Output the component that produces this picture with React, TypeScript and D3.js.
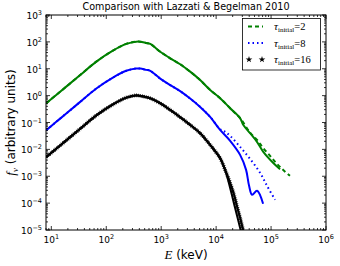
import React from "react";
import * as d3 from "d3";

// energies (keV) shared by all runs below ~10 MeV
const energyCore = [8.1, 12.3, 18.7, 32.7, 66, 132, 231, 351, 415, 533, 631, 959, 1458, 2215, 3366, 5115, 7780];
const greenCore = [0.52, 1.06, 2.16, 5.6, 18.4, 47, 84, 102, 102, 91, 84, 43, 24.5, 14.7, 7.8, 3.8, 1.63];
const blueCore = [0.052, 0.106, 0.216, 0.56, 1.84, 4.7, 8.4, 10.2, 10.2, 9.1, 8.4, 4.3, 2.45, 1.47, 0.78, 0.38, 0.162];
const blackCore = [0.0052, 0.0106, 0.0216, 0.056, 0.184, 0.47, 0.84, 1.02, 0.975, 0.88, 0.8, 0.52, 0.294, 0.157, 0.0815, 0.04, 0.0147];

// high energy tails
const greenSolidTailE = [11820, 17990, 27300, 31300, 41500, 55000, 71600, 108700, 145800];
const greenSolidTailF = [0.8, 0.34, 0.145, 0.081, 0.04, 0.0195, 0.0083, 0.0032, 0.00184];
const greenDashTailE = [11820, 17990, 27300, 41500, 55600, 71600, 95900, 123300, 165000, 221000];
const greenDashTailF = [0.8, 0.34, 0.145, 0.042, 0.0225, 0.0114, 0.00573, 0.00315, 0.00173, 0.00104];
const blueSolidTailE = [11820, 17990, 27300, 35100, 39800, 45200, 55600, 71600];
const blueSolidTailF = [0.053, 0.0207, 0.00625, 0.00173, 0.00044, 0.000204, 0.000287, 0.0000942];
const blueDotTailE = [11820, 14580, 17990, 27300, 41500, 63100, 84500, 118300];
const blueDotTailF = [0.056, 0.0448, 0.0318, 0.0124, 0.00443, 0.00134, 0.00044, 0.000133];
const blackSolidTailE = [11820, 14580, 16500, 19540, 22100, 25100, 28500];
const blackSolidTailF = [0.0047, 0.00173, 0.00073, 0.000187, 0.0000668, 0.0000239, 0.0000085];
const blackStarTailE = [11820, 14580, 17990, 21200, 24100, 27300, 31000, 33700];
const blackStarTailF = [0.0047, 0.00173, 0.000569, 0.000204, 0.0000728, 0.0000284, 0.0000102, 0.000006];

const legendLabels = ["2", "8", "16"];
const xExps = [1, 2, 3, 4, 5, 6];
const yExps = [-5, -4, -3, -2, -1, 0, 1, 2, 3];

const W = 340, H = 266;
const left = 46, right = 326, top = 15, bottom = 230;
const font = "DejaVu Sans, sans-serif";
const serif = "Liberation Serif, DejaVu Serif, serif";

const pts = (ea: number[], fa: number[], eb: number[], fb: number[]) =>
  ea.map((e, i) => [e, fa[i]]).concat(eb.map((e, i) => [e, fb[i]]));

const sup = (n: number) => (n < 0 ? "\u2212" + -n : "" + n);

export default function App() {
  const x = d3.scaleLog().domain([8, 1e6]).range([left, right]);
  const y = d3.scaleLog().domain([1e-5, 1e3]).range([bottom, top]);
  const line = d3.line<number[]>().x(d => x(d[0])).y(d => y(d[1])).curve(d3.curveCatmullRom.alpha(0.5));

  const series = [
    { d: pts(energyCore, greenCore, greenSolidTailE, greenSolidTailF), c: "#008000", dash: undefined, w: 2 },
    { d: pts(energyCore, greenCore, greenDashTailE, greenDashTailF), c: "#008000", dash: "4 3", w: 2 },
    { d: pts(energyCore, blueCore, blueSolidTailE, blueSolidTailF), c: "#0000ff", dash: undefined, w: 2 },
    { d: pts(energyCore, blueCore, blueDotTailE, blueDotTailF), c: "#0000ff", dash: "1.5 3", w: 2 },
    { d: pts(energyCore, blackCore, blackSolidTailE, blackSolidTailF), c: "#000", dash: undefined, w: 2 },
    { d: pts(energyCore, blackCore, blackStarTailE, blackStarTailF), c: "#000", dash: undefined, w: 2.2 },
  ];
  const starred = series[5].d;

  const xMinor: number[] = [];
  for (let p = 0; p <= 5; p++) for (let k = 2; k <= 9; k++) {
    const v = k * Math.pow(10, p);
    if (v >= 8 && v <= 1e6) xMinor.push(v);
  }
  const yMinor: number[] = [];
  for (let p = -5; p < 3; p++) for (let k = 2; k <= 9; k++) yMinor.push(k * Math.pow(10, p));

  const star = d3.symbol().type(d3.symbolStar).size(14)();
  const legY = [26.5, 43, 59.5];

  return (
    <svg width={W} height={H} style={{ position: "absolute", left: 0, top: 0 }}>
      <rect width={W} height={H} fill="#fff" />
      <defs>
        <clipPath id="plot">
          <rect x={left} y={top} width={right - left} height={bottom - top} />
        </clipPath>
      </defs>
      <text x={(left + right) / 2} y={10} textAnchor="middle" fontFamily={font} fontSize={9.6}>
        Comparison with Lazzati &amp; Begelman 2010
      </text>

      <g clipPath="url(#plot)">
        {series.map((s, i) => (
          <path key={i} d={line(s.d) || ""} fill="none" stroke={s.c} strokeWidth={s.w}
            strokeDasharray={s.dash} strokeLinejoin="round" />
        ))}
        {/* star markers, drawn densely as a jagged overlay */}
        <path d={line(starred) || ""} fill="none" stroke="#000" strokeWidth={3.8} strokeDasharray="0.7 1.3" />
      </g>

      {/* ticks */}
      <g stroke="#000" strokeWidth={0.8}>
        {xExps.map(e => {
          const px = x(Math.pow(10, e));
          return <g key={"xm" + e}>
            <line x1={px} x2={px} y1={bottom} y2={bottom - 4} />
            <line x1={px} x2={px} y1={top} y2={top + 4} />
          </g>;
        })}
        {xMinor.map(v => {
          const px = x(v);
          return <g key={"xn" + v}>
            <line x1={px} x2={px} y1={bottom} y2={bottom - 2} />
            <line x1={px} x2={px} y1={top} y2={top + 2} />
          </g>;
        })}
        {yExps.map(e => {
          const py = y(Math.pow(10, e));
          return <g key={"ym" + e}>
            <line x1={left} x2={left + 4} y1={py} y2={py} />
            <line x1={right} x2={right - 4} y1={py} y2={py} />
          </g>;
        })}
        {yMinor.map(v => {
          const py = y(v);
          return <g key={"yn" + v}>
            <line x1={left} x2={left + 2} y1={py} y2={py} />
            <line x1={right} x2={right - 2} y1={py} y2={py} />
          </g>;
        })}
      </g>
      <rect x={left} y={top} width={right - left} height={bottom - top} fill="none" stroke="#000" strokeWidth={1} />

      {/* tick labels */}
      {xExps.map(e => (
        <text key={"xl" + e} x={x(Math.pow(10, e))} y={243} textAnchor="middle" fontFamily={font} fontSize={9}>
          10<tspan dy={-4} fontSize={6.5}>{sup(e)}</tspan>
        </text>
      ))}
      {yExps.map(e => (
        <text key={"yl" + e} x={42} y={y(Math.pow(10, e)) + 4} textAnchor="end" fontFamily={font} fontSize={9}>
          10<tspan dy={-4} fontSize={6.5}>{sup(e)}</tspan>
        </text>
      ))}

      {/* axis labels */}
      <text x={(left + right) / 2} y={259} textAnchor="middle" fontFamily={font} fontSize={12}>
        <tspan fontFamily={serif} fontStyle="italic" fontSize={13}>E</tspan> (keV)
      </text>
      <text transform={`translate(15,${(top + bottom) / 2}) rotate(-90)`} textAnchor="middle" fontFamily={font} fontSize={12}>
        <tspan fontFamily={serif} fontStyle="italic" fontSize={13}>f</tspan>
        <tspan fontFamily={serif} fontStyle="italic" fontSize={9} dy={3}>ν</tspan>
        <tspan dy={-3}> (arbitrary units)</tspan>
      </text>

      {/* legend */}
      <rect x={242.5} y={18.5} width={78} height={51.5} fill="#fff" stroke="#000" strokeWidth={0.8} />
      <line x1={248} x2={263} y1={legY[0]} y2={legY[0]} stroke="#008000" strokeWidth={2} strokeDasharray="4 3" />
      <line x1={248} x2={263} y1={legY[1]} y2={legY[1]} stroke="#0000ff" strokeWidth={2} strokeDasharray="1.5 3" />
      <path d={star || ""} transform={`translate(249,${legY[2]})`} fill="#000" />
      <path d={star || ""} transform={`translate(262,${legY[2]})`} fill="#000" />
      {legendLabels.map((l, i) => (
        <text key={l} x={274} y={legY[i] + 3.5} fontFamily={serif} fontSize={11}>
          <tspan fontStyle="italic">τ</tspan>
          <tspan fontSize={7} dy={2}>initial</tspan>
          <tspan dy={-2} fontSize={10.5}>={l}</tspan>
        </text>
      ))}
    </svg>
  );
}
